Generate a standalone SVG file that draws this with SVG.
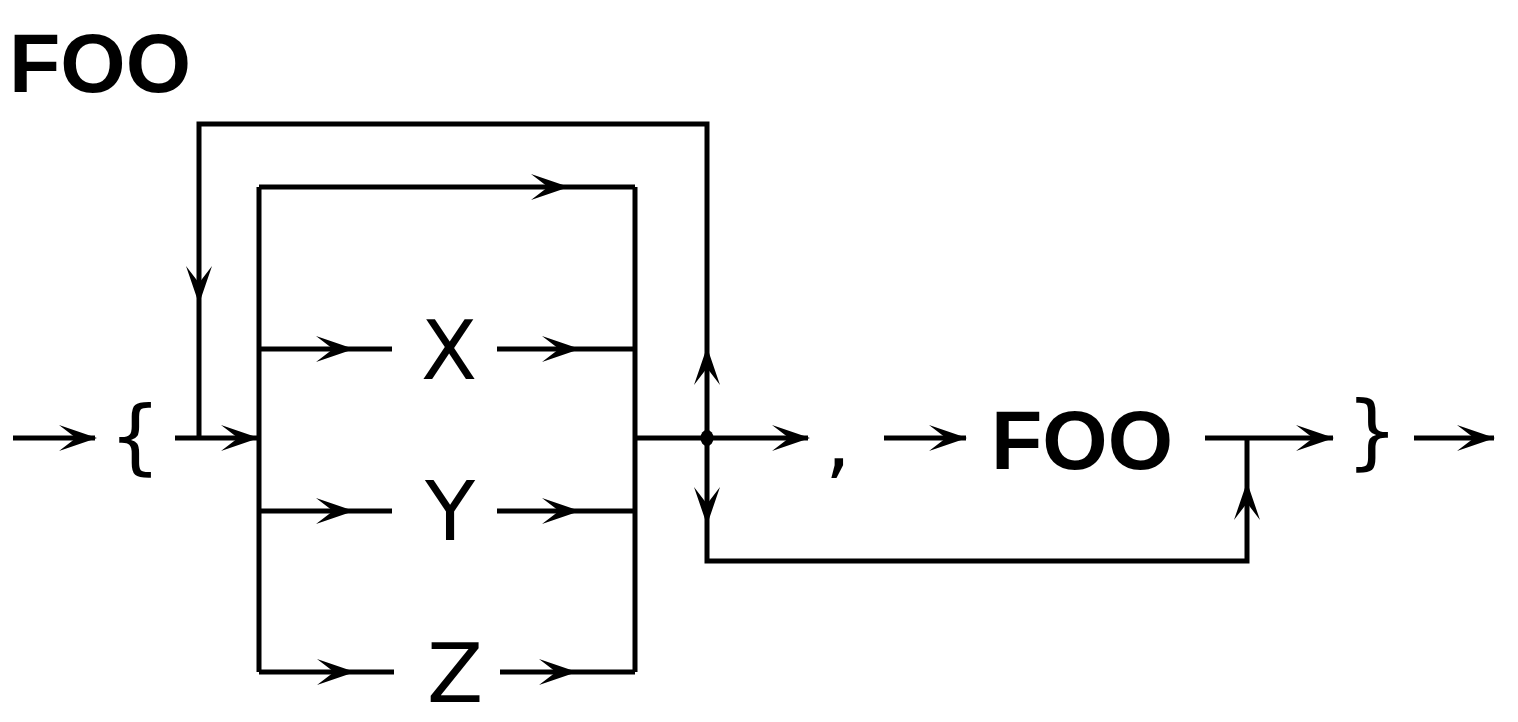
<svg xmlns="http://www.w3.org/2000/svg" xmlns:xlink="http://www.w3.org/1999/xlink" width="1518" height="722" viewBox="0 0 1518 722">
<style>
.ln{fill:none;stroke:#000;stroke-width:5;stroke-linecap:butt;stroke-linejoin:miter}
.t{font-family:"DejaVu Sans",sans-serif;font-size:82px;fill:#000;text-anchor:middle}
.b{font-family:"Liberation Sans",Arial,sans-serif;font-weight:bold;font-size:84px}
</style>
<defs>
<path id="ah" d="M0,0 L-38,-13 L-21,0 L-38,13 Z" fill="#000"/>
</defs>
<rect width="1518" height="722" fill="#fff"/>
<g id="title"><text class="t b" x="100" y="92">FOO</text></g>
<g id="connectors">
<path class="ln" d="M13,438 H95"/>
<path class="ln" d="M175,438 H258"/>
<path class="ln" d="M199,438 V124 H707 V438"/>
<path class="ln" d="M259,187 V672 M635,187 V672"/>
<path class="ln" d="M259,187 H635"/>
<path class="ln" d="M259,349 H392 M497,349 H635"/>
<path class="ln" d="M259,511 H392 M497,511 H635"/>
<path class="ln" d="M259,672 H394 M500,672 H635"/>
<path class="ln" d="M635,438 H808"/>
<ellipse cx="707" cy="438" rx="6.5" ry="8" fill="#000"/>
<path class="ln" d="M707,438 V561 H1247 V438"/>
<path class="ln" d="M884,438 H966"/>
<path class="ln" d="M1205,438 H1333"/>
<path class="ln" d="M1414,438 H1494"/>
<use xlink:href="#ah" transform="translate(97,438)"/>
<use xlink:href="#ah" transform="translate(259,438)"/>
<use xlink:href="#ah" transform="translate(199,304) rotate(90)"/>
<use xlink:href="#ah" transform="translate(707,347) rotate(-90)"/>
<use xlink:href="#ah" transform="translate(569,187)"/>
<use xlink:href="#ah" transform="translate(354,349)"/>
<use xlink:href="#ah" transform="translate(580,349)"/>
<use xlink:href="#ah" transform="translate(354,511)"/>
<use xlink:href="#ah" transform="translate(580,511)"/>
<use xlink:href="#ah" transform="translate(355,672)"/>
<use xlink:href="#ah" transform="translate(577,672)"/>
<use xlink:href="#ah" transform="translate(810,438)"/>
<use xlink:href="#ah" transform="translate(707,525) rotate(90)"/>
<use xlink:href="#ah" transform="translate(1247,482) rotate(-90)"/>
<use xlink:href="#ah" transform="translate(967,438)"/>
<use xlink:href="#ah" transform="translate(1334,438)"/>
<use xlink:href="#ah" transform="translate(1495,438)"/>
</g>
<g id="lbrace"><text class="t" x="135" y="464">{</text></g>
<g id="x"><text class="t" x="449" y="379">X</text></g>
<g id="y"><text class="t" x="450" y="540">Y</text></g>
<g id="z"><text class="t" x="455" y="702">Z</text></g>
<g id="comma"><text class="t" x="838" y="468">,</text></g>
<g id="foo"><text class="t b" x="1082" y="469">FOO</text></g>
<g id="rbrace"><text class="t" x="1372" y="459">}</text></g>
</svg>
